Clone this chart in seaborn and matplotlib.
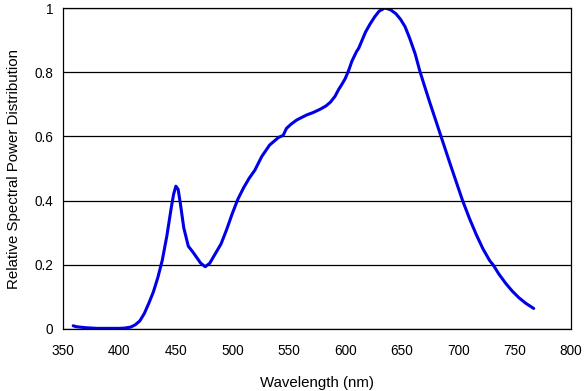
import numpy as np
import pandas as pd
import seaborn as sns
import matplotlib
matplotlib.use("Agg")
import matplotlib.pyplot as plt
from matplotlib.ticker import FuncFormatter

# =============================
# Data
# =============================
wavelength = [359, 362, 370, 380, 390, 400, 405, 410, 414, 418, 422, 426, 430, 434,
              438, 442, 446, 448, 450, 452, 454, 457, 461, 465, 468, 472, 476, 480,
              485, 490, 495, 500, 505, 510, 515, 520, 526, 533, 541, 545, 548, 552,
              557, 562, 566, 572, 578, 583, 587, 591, 594, 597, 600, 603, 606, 610,
              612, 615, 618, 622, 626, 630, 635, 640, 645, 649, 653, 657, 662, 666,
              670, 675, 680, 683, 688, 693, 698, 704, 710, 716, 722, 728, 731, 736,
              742, 748, 754, 760, 767]
power = [0.010, 0.007, 0.004, 0.002, 0.002, 0.002, 0.003, 0.006, 0.013, 0.025,
         0.048, 0.080, 0.115, 0.160, 0.215, 0.290, 0.380, 0.420, 0.445, 0.435,
         0.390, 0.315, 0.258, 0.240, 0.225, 0.205, 0.194, 0.205, 0.235, 0.265,
         0.310, 0.360, 0.405, 0.440, 0.470, 0.495, 0.537, 0.573, 0.597, 0.603,
         0.625, 0.638, 0.651, 0.660, 0.667, 0.675, 0.685, 0.695, 0.707, 0.725,
         0.745, 0.762, 0.780, 0.805, 0.835, 0.864, 0.875, 0.900, 0.925, 0.950,
         0.972, 0.990, 1.000, 0.995, 0.982, 0.965, 0.942, 0.907, 0.857, 0.805,
         0.760, 0.705, 0.652, 0.620, 0.567, 0.514, 0.462, 0.400, 0.345, 0.295,
         0.250, 0.213, 0.200, 0.172, 0.143, 0.118, 0.097, 0.080, 0.064]

x_ticks = [350, 400, 450, 500, 550, 600, 650, 700, 750, 800]
y_ticks = [0, 0.2, 0.4, 0.6, 0.8, 1.0]

df = pd.DataFrame({"Wavelength": wavelength, "Power": power})

# =============================
# Plot
# =============================
sns.set_style("white")
plt.rcParams["font.family"] = ["Liberation Sans", "DejaVu Sans"]
plt.rcParams["text.color"] = "black"
plt.rcParams["axes.labelcolor"] = "black"

fig = plt.figure(figsize=(5.85, 3.91), dpi=100)
ax = fig.add_axes([0.1077, 0.1586, 0.976 - 0.1077, 0.9795 - 0.1586])

sns.lineplot(data=df, x="Wavelength", y="Power", ax=ax,
             color="#0000e6", linewidth=2.2)

ax.set_xlim(350, 800)
ax.set_ylim(0, 1)
ax.set_xticks(x_ticks)
ax.set_yticks(y_ticks)
ax.yaxis.set_major_formatter(FuncFormatter(lambda v, _: f"{v:g}"))

ax.grid(axis="y", color="black", linewidth=0.9)
ax.set_axisbelow(True)
for s in ax.spines.values():
    s.set_color("black")
    s.set_linewidth(0.9)

ax.tick_params(axis="both", direction="out", length=4, width=0.8,
               colors="black", labelsize=9.8, pad=3)
ax.tick_params(axis="x", pad=7)

ax.set_xlabel("Wavelength (nm)", fontsize=10.8, labelpad=13)
ax.set_ylabel("Relative Spectral Power Distribution", fontsize=10.8, labelpad=10)

fig.savefig("out.png", dpi=100)
